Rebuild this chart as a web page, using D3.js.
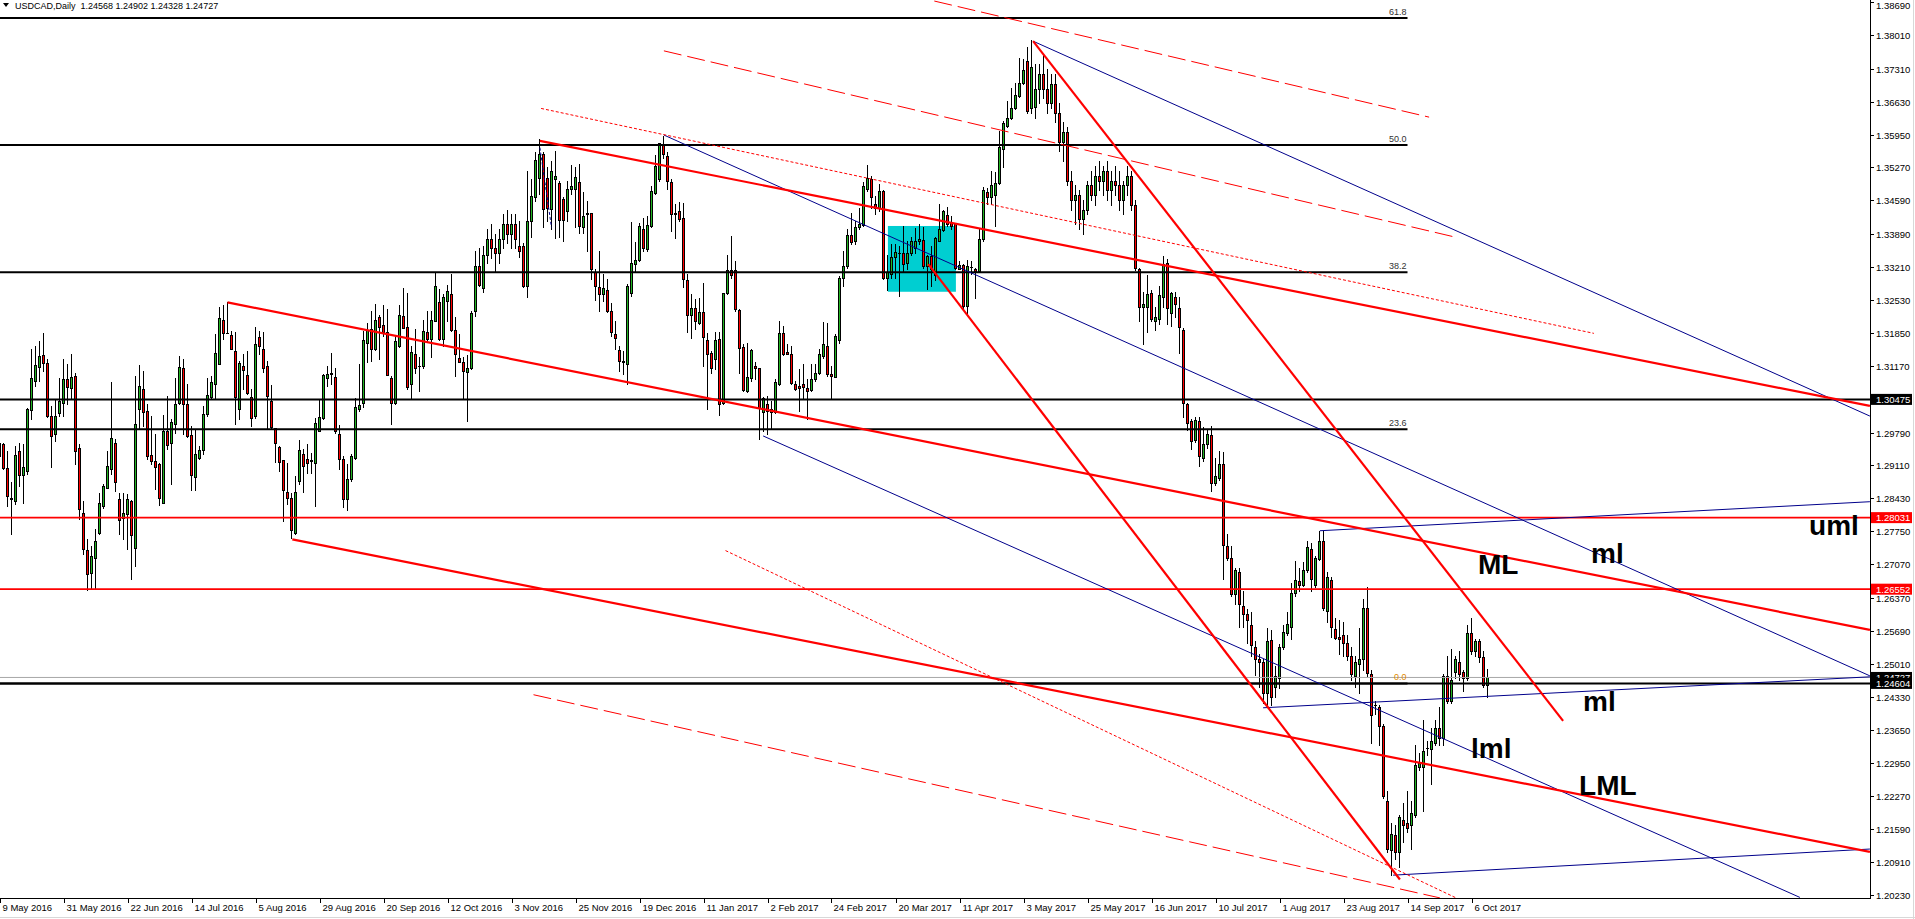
<!DOCTYPE html>
<html><head><meta charset="utf-8">
<script src="https://cdn.jsdelivr.net/npm/d3@7"></script>
<style>
html,body{margin:0;padding:0;background:#fff;overflow:hidden}
svg{display:block}
text{font-family:"Liberation Sans",Arial,sans-serif}
</style></head><body>
<svg id="c" width="1915" height="919"></svg>
<script>
// ---- DATA (USDCAD daily, bar index 0 = 9 May 2016) ----
const opens = [
1.2931,1.2956,1.2905,1.2843,1.2838,1.2940,1.2891,1.2900,1.3025,1.3086,
1.3115,1.3139,1.3122,1.3013,1.2975,1.3020,1.3041,1.3089,1.3072,1.3095,
1.2948,1.2813,1.2737,1.2689,1.2719,1.2772,1.2827,1.2865,1.2903,1.2957,
1.2842,1.2803,1.2810,1.2838,1.2741,1.3028,1.3068,1.3024,1.2932,1.2921,
1.2913,1.2834,1.2982,1.2957,1.2996,1.3041,1.3112,1.3037,1.2973,1.2888,
1.2927,1.2942,1.3018,1.3053,1.3080,1.3120,1.3211,1.3185,1.3181,1.3148,
1.3027,1.3117,1.3097,1.3053,1.3013,1.3177,1.3151,1.3117,1.3045,1.2988,
1.2949,1.2922,1.2856,1.2843,1.2772,1.2878,1.2935,1.2924,1.2922,1.2917,
1.2982,1.3010,1.3091,1.3103,1.3094,1.2977,1.2924,1.2841,1.2882,1.2927,
1.3027,1.3041,1.3165,1.3192,1.3152,1.3217,1.3201,1.3187,1.3092,1.3041,
1.3157,1.3220,1.3198,1.3080,1.3141,1.3116,1.3117,1.3186,1.3172,1.3210,
1.3248,1.3172,1.3251,1.3265,1.3190,1.3134,1.3124,1.3105,1.3112,1.3230,
1.3323,1.3278,1.3347,1.3380,1.3360,1.3350,1.3380,1.3410,1.3390,1.3410,
1.3365,1.3365,1.3282,1.3416,1.3465,1.3506,1.3554,1.3506,1.3441,1.3503,
1.3494,1.3461,1.3437,1.3482,1.3482,1.3496,1.3403,1.3431,1.3432,1.3310,
1.3280,1.3266,1.3273,1.3230,1.3182,1.3149,1.3126,1.3120,1.3268,1.3327,
1.3336,1.3399,1.3359,1.3405,1.3475,1.3503,1.3573,1.3551,1.3496,1.3432,
1.3437,1.3423,1.3294,1.3222,1.3236,1.3205,1.3228,1.3170,1.3144,1.3130,
1.3172,1.3041,1.3268,1.3314,1.3316,1.3232,1.3156,1.3065,1.3091,1.3117,
1.3112,1.3022,1.3039,1.3022,1.3022,1.3079,1.3184,1.3146,1.3141,1.3079,
1.3075,1.3079,1.3072,1.3066,1.3089,1.3102,1.3137,1.3158,1.3101,1.3094,
1.3170,1.3299,1.3323,1.3387,1.3375,1.3404,1.3408,1.3482,1.3503,1.3451,
1.3443,1.3478,1.3298,1.3306,1.3341,1.3351,1.3351,1.3330,1.3351,1.3361,
1.3374,1.3377,1.3323,1.3344,1.3305,1.3375,1.3397,1.3429,1.3413,1.3413,
1.3318,1.3326,1.3241,1.3321,1.3318,1.3312,1.3379,1.3476,1.3466,1.3471,
1.3494,1.3565,1.3613,1.3629,1.3649,1.3675,1.3702,1.3747,1.3650,1.3651,
1.3689,1.3720,1.3690,1.3660,1.3700,1.3640,1.3580,1.3600,1.3500,1.3460,
1.3470,1.3420,1.3440,1.3490,1.3470,1.3510,1.3500,1.3520,1.3480,1.3500,
1.3490,1.3460,1.3490,1.3510,1.3450,1.3318,1.3239,1.3239,1.3267,1.3209,
1.3213,1.3260,1.3329,1.3226,1.3260,1.3236,1.3191,1.3037,1.3002,1.2964,
1.3002,1.2926,1.2956,1.2973,1.2874,1.2884,1.2913,1.2745,1.2720,1.2645,
1.2690,1.2621,1.2604,1.2582,1.2535,1.2510,1.2505,1.2441,1.2550,1.2454,
1.2471,1.2535,1.2565,1.2578,1.2647,1.2672,1.2664,1.2694,1.2739,1.2664,
1.2717,1.2754,1.2610,1.2675,1.2572,1.2556,1.2561,1.2544,1.2518,1.2475,
1.2501,1.2510,1.2617,1.2480,1.2415,1.2411,1.2372,1.2218,1.2115,1.2147,
1.2111,1.2179,1.2171,1.2167,1.2188,1.2287,1.2287,1.2327,1.2325,1.2338,
1.2368,1.2347,1.2475,1.2424,1.2484,1.2505,1.2484,1.2471,1.2565,1.2527,
1.2548,1.2514,1.24568];
const highs = [
1.3013,1.2958,1.2941,1.2876,1.2951,1.2958,1.2955,1.3030,1.3151,1.3158,
1.3168,1.3184,1.3130,1.3034,1.3048,1.3092,1.3130,1.3120,1.3141,1.3103,
1.2955,1.2838,1.2758,1.2744,1.2779,1.2855,1.2872,1.2941,1.3083,1.2965,
1.2855,1.2855,1.2851,1.2839,1.3096,1.3118,1.3106,1.3037,1.3013,1.2975,
1.2917,1.3015,1.3055,1.3006,1.3092,1.3137,1.3130,1.3080,1.2993,1.2986,
1.2951,1.3034,1.3092,1.3096,1.3182,1.3239,1.3243,1.3248,1.3189,1.3186,
1.3127,1.3141,1.3148,1.3068,1.3197,1.3189,1.3187,1.3127,1.3077,1.2989,
1.2951,1.2923,1.2915,1.2855,1.2889,1.2963,1.2944,1.2955,1.2937,1.3010,
1.3048,1.3099,1.3117,1.3144,1.3113,1.2995,1.2931,1.2913,1.2934,1.3050,
1.3120,1.3189,1.3206,1.3230,1.3245,1.3221,1.3242,1.3234,1.3096,1.3179,
1.3242,1.3277,1.3268,1.3158,1.3194,1.3135,1.3211,1.3230,1.3230,1.3310,
1.3275,1.3265,1.3285,1.3306,1.3218,1.3182,1.3135,1.3139,1.3230,1.3354,
1.3360,1.3365,1.3400,1.3410,1.3390,1.3400,1.3430,1.3440,1.3430,1.3430,
1.3416,1.3370,1.3520,1.3503,1.3558,1.3585,1.3558,1.3527,1.3541,1.3561,
1.3499,1.3465,1.3499,1.3532,1.3527,1.3534,1.3477,1.3458,1.3432,1.3317,
1.3354,1.3306,1.3296,1.3247,1.3210,1.3158,1.3148,1.3286,1.3414,1.3372,
1.3413,1.3423,1.3427,1.3489,1.3552,1.3578,1.3593,1.3558,1.3503,1.3451,
1.3456,1.3454,1.3306,1.3265,1.3255,1.3258,1.3289,1.3184,1.3148,1.3186,
1.3186,1.3268,1.3347,1.3385,1.3334,1.3234,1.3162,1.3165,1.3151,1.3124,
1.3113,1.3053,1.3055,1.3044,1.3089,1.3210,1.3199,1.3161,1.3158,1.3086,
1.3110,1.3120,1.3089,1.3120,1.3120,1.3151,1.3208,1.3206,1.3117,1.3182,
1.3303,1.3354,1.3399,1.3432,1.3416,1.3444,1.3496,1.3532,1.3510,1.3468,
1.3492,1.3480,1.3347,1.3368,1.3368,1.3365,1.3406,1.3375,1.3383,1.3401,
1.3410,1.3403,1.3347,1.3365,1.3383,1.3451,1.3438,1.3445,1.3427,1.3413,
1.3334,1.3327,1.3335,1.3334,1.3320,1.3399,1.3487,1.3485,1.3520,1.3518,
1.3603,1.3623,1.3665,1.3692,1.3702,1.3753,1.3751,1.3775,1.3790,1.3740,
1.3740,1.3760,1.3730,1.3720,1.3720,1.3660,1.3620,1.3610,1.3520,1.3490,
1.3480,1.3460,1.3500,1.3520,1.3530,1.3540,1.3530,1.3540,1.3520,1.3530,
1.3520,1.3500,1.3530,1.3520,1.3460,1.3320,1.3269,1.3305,1.3273,1.3239,
1.3281,1.3344,1.3337,1.3269,1.3269,1.3260,1.3196,1.3041,1.3007,1.3011,
1.3011,1.2990,1.2987,1.2992,1.2926,1.2940,1.2938,1.2769,1.2745,1.2698,
1.2698,1.2651,1.2614,1.2608,1.2548,1.2522,1.2510,1.2574,1.2570,1.2497,
1.2541,1.2582,1.2608,1.2668,1.2713,1.2698,1.2711,1.2754,1.2750,1.2724,
1.2775,1.2775,1.2690,1.2681,1.2595,1.2591,1.2587,1.2561,1.2535,1.2518,
1.2574,1.2634,1.2660,1.2488,1.2424,1.2415,1.2377,1.2239,1.2171,1.2167,
1.2188,1.2214,1.2239,1.2218,1.2334,1.2317,1.2385,1.2342,1.2368,1.2385,
1.2411,1.2480,1.2518,1.2531,1.2518,1.2527,1.2488,1.2582,1.2595,1.2552,
1.2552,1.2527,1.24902];
const lows = [
1.2906,1.2903,1.2827,1.2769,1.2831,1.2869,1.2834,1.2893,1.3006,1.3075,
1.3086,1.3106,1.3012,1.2908,1.2962,1.3013,1.3013,1.3037,1.3051,1.2913,
1.2800,1.2727,1.2653,1.2658,1.2658,1.2769,1.2824,1.2864,1.2893,1.2858,
1.2769,1.2758,1.2739,1.2676,1.2703,1.2989,1.2993,1.2924,1.2913,1.2863,
1.2829,1.2834,1.2944,1.2873,1.2979,1.3037,1.2975,1.2970,1.2860,1.2860,
1.2924,1.2934,1.3013,1.3051,1.3051,1.3120,1.3172,1.3184,1.3151,1.2997,
1.3006,1.3068,1.3058,1.2992,1.3010,1.3141,1.3105,1.2988,1.2989,1.2919,
1.2900,1.2796,1.2831,1.2762,1.2770,1.2872,1.2856,1.2896,1.2896,1.2827,
1.2982,1.3006,1.3075,1.3079,1.2979,1.2903,1.2825,1.2818,1.2879,1.2924,
1.3024,1.3031,1.3124,1.3127,1.3149,1.3130,1.3178,1.3097,1.2997,1.3037,
1.3155,1.3196,1.3070,1.3048,1.3103,1.3065,1.3113,1.3168,1.3135,1.3210,
1.3170,1.3158,1.3210,1.3189,1.3096,1.3124,1.3051,1.3002,1.3110,1.3220,
1.3282,1.3269,1.3330,1.3340,1.3310,1.3330,1.3360,1.3370,1.3360,1.3360,
1.3341,1.3280,1.3259,1.3383,1.3458,1.3472,1.3403,1.3416,1.3400,1.3382,
1.3383,1.3374,1.3416,1.3472,1.3403,1.3392,1.3392,1.3354,1.3296,1.3254,
1.3230,1.3251,1.3229,1.3179,1.3151,1.3106,1.3099,1.3079,1.3262,1.3313,
1.3334,1.3354,1.3354,1.3403,1.3472,1.3499,1.3547,1.3482,1.3396,1.3382,
1.3416,1.3279,1.3186,1.3175,1.3192,1.3203,1.3117,1.3027,1.3103,1.3110,
1.3015,1.3038,1.3265,1.3299,1.3230,1.3103,1.3065,1.3062,1.3086,1.3089,
1.2965,1.2982,1.2977,1.2989,1.3020,1.3077,1.3140,1.3141,1.3079,1.3066,
1.3024,1.3051,1.3008,1.3065,1.3086,1.3100,1.3134,1.3096,1.3049,1.3093,
1.3165,1.3282,1.3320,1.3368,1.3368,1.3399,1.3406,1.3478,1.3443,1.3430,
1.3437,1.3296,1.3273,1.3299,1.3299,1.3261,1.3313,1.3317,1.3347,1.3351,
1.3368,1.3320,1.3275,1.3282,1.3294,1.3374,1.3396,1.3406,1.3399,1.3317,
1.3317,1.3237,1.3222,1.3306,1.3258,1.3310,1.3375,1.3452,1.3451,1.3406,
1.3492,1.3527,1.3611,1.3627,1.3647,1.3673,1.3699,1.3640,1.3640,1.3630,
1.3660,1.3670,1.3640,1.3650,1.3620,1.3560,1.3540,1.3490,1.3440,1.3410,
1.3400,1.3390,1.3430,1.3460,1.3450,1.3480,1.3470,1.3460,1.3450,1.3470,
1.3440,1.3430,1.3470,1.3440,1.3316,1.3209,1.3161,1.3187,1.3209,1.3190,
1.3204,1.3239,1.3204,1.3200,1.3217,1.3144,1.3011,1.2984,1.2944,1.2960,
1.2910,1.2921,1.2947,1.2859,1.2870,1.2881,1.2677,1.2715,1.2642,1.2625,
1.2578,1.2578,1.2544,1.2518,1.2478,1.2454,1.2420,1.2411,1.2415,1.2432,
1.2450,1.2531,1.2561,1.2552,1.2642,1.2651,1.2661,1.2690,1.2651,1.2660,
1.2715,1.2612,1.2587,1.2557,1.2553,1.2522,1.2518,1.2509,1.2467,1.2454,
1.2441,1.2488,1.2475,1.2338,1.2398,1.2334,1.2224,1.2111,1.2064,1.2098,
1.2081,1.2132,1.2154,1.2119,1.2184,1.2282,1.2197,1.2312,1.2252,1.2334,
1.2334,1.2334,1.2420,1.2420,1.2471,1.2467,1.2445,1.2467,1.2522,1.2518,
1.2505,1.2454,1.24328];
const closes = [
1.2958,1.2906,1.2848,1.2842,1.2932,1.2891,1.2908,1.3027,1.3092,1.3118,
1.3137,1.3122,1.3013,1.2972,1.3013,1.3044,1.3089,1.3073,1.3094,1.2941,
1.2820,1.2738,1.2687,1.2724,1.2755,1.2834,1.2869,1.2910,1.2967,1.2876,
1.2798,1.2812,1.2841,1.2767,1.2996,1.3075,1.3022,1.2931,1.2921,1.2908,
1.2843,1.2982,1.2953,1.3001,1.3037,1.3115,1.3037,1.2971,1.2891,1.2935,
1.2942,1.3017,1.3056,1.3083,1.3143,1.3215,1.3184,1.3184,1.3151,1.3053,
1.3123,1.3108,1.3061,1.3010,1.3161,1.3157,1.3113,1.3054,1.2991,1.2958,
1.2918,1.2860,1.2843,1.2777,1.2856,1.2942,1.2909,1.2917,1.2921,1.2998,
1.3011,1.3098,1.3101,1.3099,1.2982,1.2924,1.2841,1.2882,1.2931,1.3032,
1.3036,1.3170,1.3191,1.3151,1.3211,1.3198,1.3187,1.3097,1.3041,1.3168,
1.3223,1.3196,1.3073,1.3145,1.3113,1.3117,1.3189,1.3172,1.3212,1.3282,
1.3172,1.3259,1.3272,1.3190,1.3141,1.3124,1.3106,1.3112,1.3227,1.3323,
1.3285,1.3347,1.3380,1.3360,1.3350,1.3380,1.3410,1.3390,1.3410,1.3380,
1.3354,1.3282,1.3416,1.3468,1.3542,1.3554,1.3441,1.3444,1.3520,1.3510,
1.3418,1.3418,1.3482,1.3489,1.3507,1.3405,1.3427,1.3432,1.3317,1.3282,
1.3266,1.3277,1.3230,1.3186,1.3175,1.3127,1.3125,1.3282,1.3329,1.3336,
1.3406,1.3361,1.3409,1.3478,1.3530,1.3577,1.3554,1.3499,1.3430,1.3431,
1.3420,1.3296,1.3222,1.3237,1.3210,1.3228,1.3177,1.3141,1.3113,1.3170,
1.3038,1.3267,1.3314,1.3305,1.3234,1.3153,1.3066,1.3094,1.3149,1.3113,
1.3029,1.3050,1.3024,1.3027,1.3084,1.3184,1.3141,1.3141,1.3082,1.3068,
1.3072,1.3073,1.3065,1.3089,1.3103,1.3142,1.3163,1.3100,1.3096,1.3179,
1.3299,1.3323,1.3387,1.3372,1.3404,1.3411,1.3489,1.3506,1.3465,1.3443,
1.3478,1.3298,1.3310,1.3342,1.3352,1.3351,1.3328,1.3351,1.3375,1.3375,
1.3379,1.3323,1.3344,1.3317,1.3381,1.3399,1.3436,1.3410,1.3406,1.3320,
1.3326,1.3241,1.3323,1.3321,1.3313,1.3379,1.3480,1.3466,1.3490,1.3494,
1.3569,1.3618,1.3630,1.3649,1.3676,1.3702,1.3728,1.3644,1.3735,1.3689,
1.3720,1.3690,1.3660,1.3700,1.3640,1.3580,1.3600,1.3500,1.3460,1.3470,
1.3420,1.3440,1.3490,1.3470,1.3510,1.3500,1.3520,1.3480,1.3500,1.3490,
1.3460,1.3490,1.3510,1.3450,1.3320,1.3239,1.3245,1.3266,1.3213,1.3217,
1.3264,1.3327,1.3236,1.3267,1.3245,1.3197,1.3041,1.2998,1.2961,1.3004,
1.2931,1.2956,1.2977,1.2874,1.2889,1.2913,1.2747,1.2720,1.2645,1.2694,
1.2625,1.2604,1.2591,1.2540,1.2510,1.2505,1.2441,1.2548,1.2432,1.2475,
1.2535,1.2567,1.2584,1.2647,1.2674,1.2664,1.2694,1.2743,1.2677,1.2720,
1.2754,1.2617,1.2681,1.2578,1.2555,1.2552,1.2544,1.2518,1.2480,1.2505,
1.2510,1.2617,1.2481,1.2395,1.2416,1.2372,1.2227,1.2119,1.2149,1.2111,
1.2184,1.2167,1.2162,1.2192,1.2291,1.2295,1.2321,1.2327,1.2342,1.2368,
1.2347,1.2475,1.2424,1.2467,1.2510,1.2480,1.2471,1.2565,1.2527,1.2548,
1.2514,1.2458,1.24727];

// x-axis labels every 16 bars
const dateLabels = ["9 May 2016","31 May 2016","22 Jun 2016","14 Jul 2016","5 Aug 2016","29 Aug 2016","20 Sep 2016","12 Oct 2016","3 Nov 2016","25 Nov 2016","19 Dec 2016","11 Jan 2017","2 Feb 2017","24 Feb 2017","20 Mar 2017","11 Apr 2017","3 May 2017","25 May 2017","16 Jun 2017","10 Jul 2017","1 Aug 2017","23 Aug 2017","14 Sep 2017","6 Oct 2017"];
const labelStep = 16;
// price axis tick labels
const priceTicks = [1.38690,1.38010,1.37310,1.36630,1.35950,1.35270,1.34590,1.33890,1.33210,1.32530,1.31850,1.31170,1.30490,1.29790,1.29110,1.28430,1.27750,1.27070,1.26370,1.25690,1.25010,1.24330,1.23650,1.22950,1.22270,1.21590,1.20910,1.20230];
// horizontal levels
const levelPrices = [1.30475, 1.28031, 1.26552, 1.24727, 1.24604];
const levelColors = ["#000000", "#FF0000", "#FF0000", "#000000", "#000000"];
// Fibonacci retracement
const fibLevels = [0, 23.6, 38.2, 50.0, 61.8];
const fibLow = 1.24604, fibHigh = 1.4686, fibEndBar = 352;
// trend lines: [bar1, price1, bar2, price2]
const redLines = [[57,1.3248,467.6,1.2571],[135.1,1.3582,467.6,1.3034],[73.2,1.2758,467.6,1.2112],[258.4,1.3788,390.9,1.2383],[232.2,1.3327,350.1,1.2055]];
const redDashed = [[233.7,1.3871,357.4,1.3631],[166.1,1.3768,363.4,1.3384],[133.5,1.2437,360.1,1.2017]];
const redDotted = [[135.4,1.3649,398.6,1.3184],[181.5,1.2735,364.4,1.2016]];
const blueLines = [[166.1,1.3594,467.6,1.2476],[258.4,1.3788,467.6,1.3013],[190.9,1.2972,450.1,1.2018],[330.1,1.2776,467.6,1.2836],[315.9,1.2410,467.6,1.2474],[348.4,1.2064,467.6,1.2118]];
const blueDotted = [[135.1,1.3568,138,1.3403]];
const boxArea = [222.1, 1.3406, 239.1, 1.3270];
// text annotations: [text, bar, price(baseline)]
const notes = [["uml",452.4,1.27673],["ML",369.6,1.26867],["ml",397.9,1.27094],["ml",395.9,1.24035],["lml",367.9,1.23064],["LML",394.9,1.22299]];
const header = "USDCAD,Daily  1.24568 1.24902 1.24328 1.24727";

// ---- DRAW ----
const svg = d3.select("#c");
const PR = 1870, PB = 898;
const n = Math.min(opens.length, highs.length, lows.length, closes.length);
const x = d3.scaleLinear().domain([0, 372]).range([-0.5, 1487.5]);
const y = d3.scaleLinear().domain([1.2023, 1.3869]).range([895, 2]);

svg.append("defs").append("clipPath").attr("id","plot")
  .append("rect").attr("x",0).attr("y",0).attr("width",PR).attr("height",PB);
const g = svg.append("g").attr("clip-path","url(#plot)");

// cyan rectangle (background object)
g.append("rect").attr("x",x(boxArea[0])).attr("y",y(boxArea[1]))
  .attr("width",x(boxArea[2])-x(boxArea[0])).attr("height",y(boxArea[3])-y(boxArea[1]))
  .attr("fill","#00CED1");

// candles
const cg = g.append("g").attr("shape-rendering","crispEdges");
for (let i=0;i<n;i++){
  const o=opens[i],h=highs[i],l=lows[i],c=closes[i];
  const xc=x(i);
  const yh=Math.round(y(h)), yl=Math.round(y(l));
  cg.append("rect").attr("x",xc-0.5).attr("y",yh).attr("width",1).attr("height",Math.max(1,yl-yh+1)).attr("fill","#000");
  const top=Math.round(y(Math.max(o,c))), bot=Math.round(y(Math.min(o,c)));
  const hh=Math.max(1,bot-top+1);
  cg.append("rect").attr("x",xc-1.5).attr("y",top).attr("width",3).attr("height",hh).attr("fill","#000");
  if (hh>2) cg.append("rect").attr("x",xc-0.5).attr("y",top+1).attr("width",1).attr("height",hh-2)
     .attr("fill", c>=o ? "#22B422" : "#FF0000");
}

// horizontal level lines
levelPrices.forEach((p,k)=>{
  const isBid = (k===3);
  g.append("line").attr("x1",0).attr("x2",PR).attr("y1",y(p)).attr("y2",y(p))
   .attr("stroke", isBid ? "#A8A8A8" : levelColors[k])
   .attr("stroke-width", isBid ? 1 : (levelColors[k]==="#000000" ? 2 : 1.6));
});

// fib lines
fibLevels.forEach(f=>{
  const p = fibLow + (fibHigh-fibLow)*f/100;
  g.append("line").attr("x1",0).attr("x2",x(fibEndBar)).attr("y1",y(p)).attr("y2",y(p))
    .attr("stroke","#000").attr("stroke-width",2);
  g.append("text").attr("x",x(fibEndBar)-1).attr("y",y(p)-3).attr("text-anchor","end")
    .attr("font-size",9).attr("fill", f===0 ? "#E08A00" : "#333").text(f.toFixed(1));
});

function drawLines(arr, color, w, dash){
  arr.forEach(a=>{
    const ln = g.append("line").attr("x1",x(a[0])).attr("y1",y(a[1])).attr("x2",x(a[2])).attr("y2",y(a[3]))
      .attr("stroke",color).attr("stroke-width",w);
    if (dash) ln.attr("stroke-dasharray",dash);
  });
}
drawLines(blueLines,"#00008B",1,null);
drawLines(blueDotted,"#00008B",1,"3,2");
drawLines(redDashed,"#FF0000",1,"18,6");
drawLines(redDotted,"#FF0000",1,"3,2");
drawLines(redLines,"#FF0000",2.2,null);

// annotations
notes.forEach(t=>{
  g.append("text").attr("x",x(t[1])).attr("y",y(t[2])).attr("font-family","'Liberation Sans',Arial,sans-serif")
   .attr("font-weight","bold").attr("font-size",28).attr("fill","#000").text(t[0]);
});

// axes
svg.append("line").attr("x1",PR+0.5).attr("x2",PR+0.5).attr("y1",0).attr("y2",PB+1).attr("stroke","#000");
svg.append("line").attr("x1",0).attr("x2",PR+1).attr("y1",PB+0.5).attr("y2",PB+0.5).attr("stroke","#000");
svg.append("line").attr("x1",1913.5).attr("x2",1913.5).attr("y1",0).attr("y2",919).attr("stroke","#D8D8D8");
svg.append("line").attr("x1",0).attr("x2",1915).attr("y1",917.5).attr("y2",917.5).attr("stroke","#D8D8D8");

const ay = svg.append("g");
priceTicks.forEach(p=>{
  const yy=Math.round(y(p))+0.5;
  ay.append("line").attr("x1",PR).attr("x2",PR+4).attr("y1",yy).attr("y2",yy).attr("stroke","#000");
  ay.append("text").attr("x",PR+6).attr("y",Math.max(9,yy+3.5)).attr("font-size",9.5).attr("fill","#000").text(p.toFixed(5));
});
// level price boxes (bid box first so the 1.24604 box sits over it)
[0,1,2,3,4].forEach(k=>{
  const p=levelPrices[k], yy=y(p);
  ay.append("rect").attr("x",PR+1).attr("y",yy-5.5).attr("width",41).attr("height",11).attr("fill",levelColors[k]);
  ay.append("text").attr("x",PR+6).attr("y",yy+3.5).attr("font-size",9.5).attr("fill","#fff").text(p.toFixed(5));
});

const ax = svg.append("g");
dateLabels.forEach((d,k)=>{
  const xx=Math.round(x(k*labelStep))+0.5;
  ax.append("line").attr("x1",xx).attr("x2",xx).attr("y1",PB).attr("y2",PB+5).attr("stroke","#000");
  ax.append("text").attr("x",xx+2).attr("y",PB+13).attr("font-size",9.5).attr("fill","#000").text(d);
});

// header
svg.append("path").attr("d","M3,3 L9,3 L6,7 Z").attr("fill","#000");
svg.append("text").attr("x",15).attr("y",9).attr("font-size",9).attr("fill","#000").style("white-space","pre").text(header);
</script>
</body></html>
